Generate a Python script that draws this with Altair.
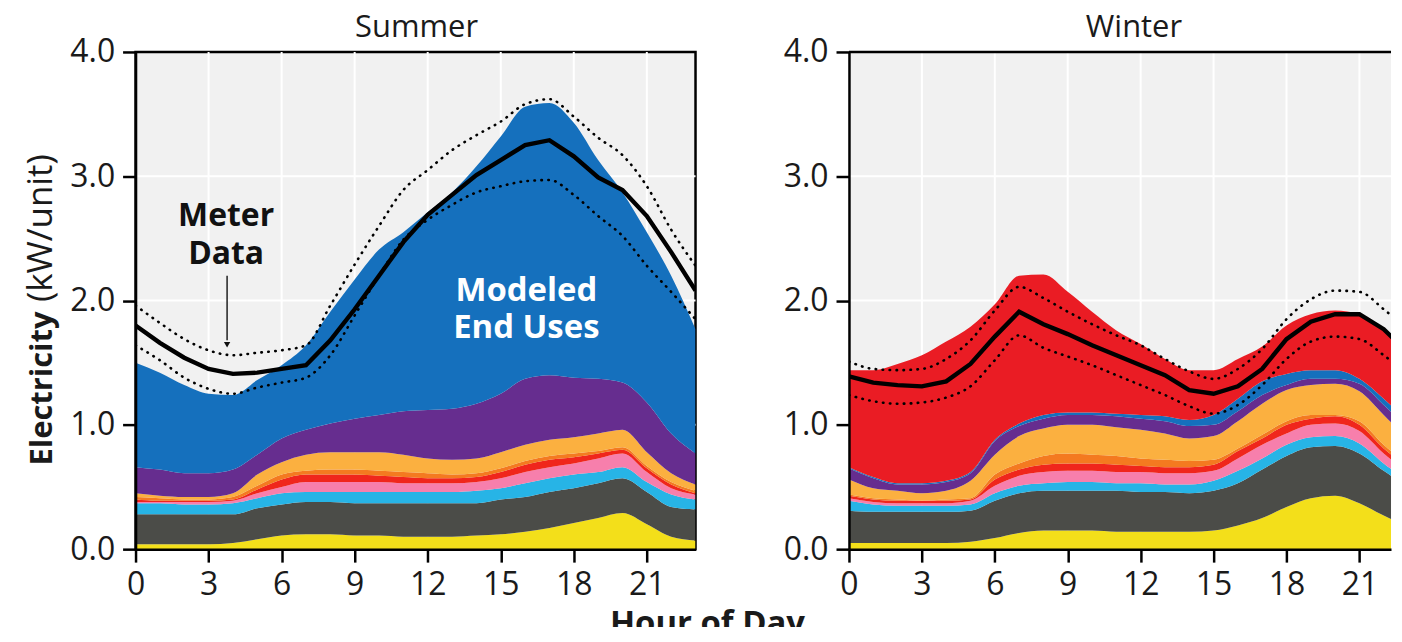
import altair as alt
import pandas as pd

HOURS = list(range(24))
X_TICKS = [0, 3, 6, 9, 12, 15, 18, 21]
Y_TICKS = [0, 1, 2, 3, 4]
GRID_HOURS = [3, 6, 9, 12, 15, 18, 21]
GRID_KW = [1, 2, 3]
FRAME_KW = [4]

END_USES = ["Pool pump", "Plug loads", "Refrigeration", "Laundry", "Cooking",
            "Lighting", "Water heating", "Fans", "Cooling", "Heating"]
COLORS = ["#f3df1a", "#4b4c48", "#27b4e6", "#f77fac", "#f0261c",
          "#f47a20", "#fbb040", "#662d8f", "#1570bd", "#ea1c24"]

# ---- Summer end uses (kW/unit per hour) ----
S_POOL = [0.04, 0.04, 0.04, 0.04, 0.05, 0.08, 0.11, 0.12, 0.12, 0.11, 0.11, 0.10,
          0.10, 0.10, 0.11, 0.12, 0.14, 0.17, 0.21, 0.25, 0.29, 0.20, 0.10, 0.07]
S_PLUG = [0.24, 0.24, 0.24, 0.24, 0.23, 0.25, 0.25, 0.26, 0.26, 0.26, 0.26, 0.27,
          0.27, 0.27, 0.26, 0.28, 0.28, 0.29, 0.28, 0.28, 0.28, 0.26, 0.24, 0.25]
S_REFRIG = [0.09, 0.09, 0.08, 0.08, 0.09, 0.08, 0.09, 0.08, 0.08, 0.09, 0.09, 0.09,
            0.09, 0.09, 0.10, 0.09, 0.11, 0.11, 0.11, 0.09, 0.09, 0.08, 0.10, 0.08]
S_LAUNDRY = [0.01, 0.01, 0.02, 0.02, 0.02, 0.04, 0.05, 0.08, 0.08, 0.08, 0.08, 0.07,
             0.07, 0.07, 0.07, 0.08, 0.09, 0.09, 0.09, 0.11, 0.11, 0.08, 0.05, 0.04]
S_COOKING = [0.02, 0.01, 0.01, 0.01, 0.01, 0.03, 0.06, 0.06, 0.06, 0.06, 0.05, 0.05,
             0.04, 0.04, 0.04, 0.05, 0.06, 0.06, 0.05, 0.04, 0.03, 0.03, 0.03, 0.01]
S_LIGHTING = [0.02, 0.02, 0.01, 0.01, 0.02, 0.03, 0.04, 0.03, 0.04, 0.04, 0.04, 0.04,
              0.04, 0.03, 0.03, 0.03, 0.03, 0.03, 0.03, 0.02, 0.02, 0.02, 0.02, 0.02]
S_WATER = [0.03, 0.02, 0.02, 0.02, 0.03, 0.09, 0.10, 0.13, 0.14, 0.14, 0.15, 0.14,
           0.12, 0.12, 0.12, 0.13, 0.13, 0.13, 0.13, 0.14, 0.14, 0.11, 0.07, 0.05]
S_FANS = [0.21, 0.21, 0.19, 0.19, 0.19, 0.16, 0.19, 0.20, 0.23, 0.27, 0.30, 0.35,
          0.39, 0.41, 0.44, 0.47, 0.53, 0.52, 0.48, 0.44, 0.38, 0.40, 0.32, 0.25]
S_COOL = [0.84, 0.78, 0.71, 0.64, 0.60, 0.60, 0.59, 0.68, 0.90, 1.12, 1.33, 1.44,
          1.59, 1.74, 1.91, 2.07, 2.19, 2.19, 2.05, 1.76, 1.53, 1.37, 1.27, 1.00]

S_METER = [1.80, 1.66, 1.54, 1.45, 1.41, 1.42, 1.45, 1.48, 1.68, 1.93, 2.20, 2.47,
           2.69, 2.85, 3.01, 3.13, 3.25, 3.29, 3.16, 2.99, 2.89, 2.68, 2.39, 2.08]
S_UPPER = [1.96, 1.82, 1.69, 1.60, 1.56, 1.58, 1.60, 1.64, 1.96, 2.29, 2.60, 2.89,
           3.05, 3.21, 3.33, 3.44, 3.58, 3.62, 3.48, 3.31, 3.17, 2.92, 2.57, 2.28]
S_LOWER = [1.64, 1.52, 1.38, 1.29, 1.25, 1.30, 1.34, 1.38, 1.56, 1.88, 2.20, 2.49,
           2.65, 2.77, 2.87, 2.92, 2.96, 2.97, 2.85, 2.68, 2.52, 2.28, 2.07, 1.85]

# ---- Winter end uses ----
W_POOL = [0.05, 0.05, 0.05, 0.05, 0.05, 0.06, 0.09, 0.13, 0.15, 0.15, 0.15, 0.14,
          0.14, 0.14, 0.14, 0.15, 0.19, 0.25, 0.34, 0.41, 0.43, 0.37, 0.27, 0.18]
W_PLUG = [0.26, 0.25, 0.25, 0.25, 0.25, 0.25, 0.30, 0.32, 0.32, 0.32, 0.32, 0.33,
          0.32, 0.32, 0.31, 0.32, 0.34, 0.39, 0.41, 0.41, 0.40, 0.40, 0.36, 0.32]
W_REFRIG = [0.08, 0.06, 0.05, 0.05, 0.05, 0.05, 0.06, 0.06, 0.06, 0.07, 0.07, 0.06,
            0.07, 0.06, 0.07, 0.08, 0.10, 0.09, 0.09, 0.08, 0.08, 0.08, 0.06, 0.05]
W_LAUNDRY = [0.02, 0.02, 0.02, 0.02, 0.02, 0.03, 0.06, 0.08, 0.09, 0.09, 0.09, 0.09,
             0.09, 0.09, 0.09, 0.08, 0.10, 0.11, 0.09, 0.10, 0.10, 0.10, 0.08, 0.07]
W_COOKING = [0.02, 0.02, 0.02, 0.02, 0.02, 0.01, 0.05, 0.05, 0.06, 0.06, 0.06, 0.06,
             0.05, 0.05, 0.05, 0.05, 0.06, 0.05, 0.07, 0.05, 0.06, 0.05, 0.04, 0.04]
W_LIGHTING = [0.01, 0.01, 0.01, 0.00, 0.01, 0.01, 0.04, 0.05, 0.07, 0.08, 0.07, 0.07,
              0.06, 0.06, 0.05, 0.04, 0.02, 0.03, 0.03, 0.03, 0.01, 0.03, 0.03, 0.02]
W_WATER = [0.12, 0.08, 0.07, 0.06, 0.07, 0.14, 0.16, 0.22, 0.22, 0.23, 0.24, 0.23,
           0.23, 0.21, 0.18, 0.19, 0.22, 0.25, 0.25, 0.24, 0.25, 0.24, 0.24, 0.20]
W_FANS = [0.09, 0.08, 0.05, 0.07, 0.07, 0.06, 0.11, 0.08, 0.08, 0.08, 0.08, 0.09,
          0.09, 0.10, 0.10, 0.09, 0.08, 0.07, 0.04, 0.05, 0.04, 0.06, 0.08, 0.09]
W_COOL = [0.01, 0.01, 0.01, 0.01, 0.01, 0.01, 0.01, 0.02, 0.03, 0.02, 0.02, 0.02,
          0.03, 0.04, 0.05, 0.08, 0.10, 0.11, 0.09, 0.07, 0.07, 0.04, 0.05, 0.06]
W_HEAT = [0.78, 0.86, 0.96, 1.03, 1.12, 1.17, 1.09, 1.19, 1.13, 0.97, 0.81, 0.67,
          0.57, 0.46, 0.40, 0.36, 0.32, 0.28, 0.39, 0.45, 0.48, 0.52, 0.55, 0.57]

W_METER = [1.39, 1.34, 1.32, 1.31, 1.35, 1.49, 1.71, 1.91, 1.81, 1.73, 1.64, 1.56,
           1.48, 1.40, 1.28, 1.25, 1.31, 1.45, 1.69, 1.83, 1.89, 1.89, 1.77, 1.58]
W_UPPER = [1.51, 1.45, 1.44, 1.45, 1.53, 1.68, 1.92, 2.11, 2.02, 1.91, 1.81, 1.72,
           1.64, 1.53, 1.43, 1.37, 1.45, 1.61, 1.85, 2.01, 2.08, 2.07, 1.93, 1.76]
W_LOWER = [1.24, 1.19, 1.17, 1.18, 1.22, 1.31, 1.52, 1.72, 1.62, 1.55, 1.48, 1.40,
           1.32, 1.24, 1.15, 1.09, 1.16, 1.32, 1.53, 1.67, 1.71, 1.69, 1.56, 1.40]

# annotations (data coordinates of the summer panel)
METER_TEXT = ["Meter", "Data"]
METER_TEXT_HOUR = [3.72, 3.72]
METER_TEXT_KW = [2.597, 2.293]
ARROW_HOUR = [3.76]
ARROW_TOP = [2.20]
ARROW_BOTTOM = [1.68]
ARROW_HEAD_KW = [1.645]
MODEL_TEXT = ["Modeled", "End Uses"]
MODEL_TEXT_HOUR = [16.05, 16.05]
MODEL_TEXT_KW = [1.996, 1.70]

FONT = "Open Sans"
H = 499
SUMMER_W, SUMMER_XMAX = 562, 23
WINTER_W, WINTER_XMAX = 544, 22.30   # winter panel is cut by the picture edge

AXIS_STYLE = dict(grid=False, zindex=2, labelFont=FONT, labelFontSize=32,
                  labelColor="#1a1a1a", labelPadding=8, labelFlush=False,
                  labelOverlap=False, tickSize=13, tickWidth=2.5, tickColor="black",
                  domainColor="black", domainWidth=2.5, title=None)
YS = alt.Scale(domain=[0, 4], nice=False)
YA = alt.Axis(values=Y_TICKS, format=".1f", **AXIS_STYLE)
XA = alt.Axis(values=X_TICKS, **AXIS_STYLE)


def Y(field, **kw):
    return alt.Y(f"{field}:Q", scale=YS, axis=YA, title=None, **kw)


def stack_df(lists):
    rows = []
    for i, (name, vals) in enumerate(zip(END_USES, lists)):
        for h, v in zip(HOURS, vals):
            rows.append({"hour": h, "end_use": name, "kw": v, "order": i})
    return pd.DataFrame(rows)


def text_layer(txt, x, y, size, weight="normal", color="#1a1a1a", angle=0, align="center"):
    return alt.Chart(pd.DataFrame({"t": [txt]})).mark_text(
        font=FONT, fontSize=size, fontWeight=weight, color=color, angle=angle,
        align=align, baseline="alphabetic"
    ).encode(text="t:N", x=alt.value(x), y=alt.value(y))


def panel(lists, meter, upper, lower, title, title_x, width, xmax, extra, frame_top=False):
    xs = alt.Scale(domain=[0, xmax], nice=False, zero=False)

    def X(field="hour"):
        return alt.X(f"{field}:Q", scale=xs, axis=XA, title=None)

    sdf = stack_df(lists)
    mdf = pd.DataFrame({"hour": HOURS, "meter": meter, "upper": upper, "lower": lower})
    vgrid = alt.Chart(pd.DataFrame({"hour": GRID_HOURS})).mark_rule(
        color="white", strokeWidth=2).encode(x=X())
    hgrid = alt.Chart(pd.DataFrame({"kw": GRID_KW})).mark_rule(
        color="white", strokeWidth=2).encode(y=Y("kw"))
    areas = alt.Chart(sdf).mark_area(interpolate="monotone", clip=True).encode(
        x=X(),
        y=Y("kw", stack="zero"),
        color=alt.Color("end_use:N", scale=alt.Scale(domain=END_USES, range=COLORS), legend=None),
        order=alt.Order("order:Q", sort="ascending"),
    )
    band = alt.Chart(mdf).transform_fold(["upper", "lower"], as_=["band", "kw"]).mark_line(
        interpolate="monotone", color="black", strokeWidth=2.6, strokeDash=[0.5, 6.5],
        strokeCap="round", clip=True
    ).encode(x=X(), y=Y("kw"), detail="band:N")
    line = alt.Chart(mdf).mark_line(color="black", strokeWidth=4.4, clip=True).encode(
        x=X(), y=Y("meter"))
    ttl = text_layer(title, title_x, -15, 31)
    layers = [vgrid, hgrid, areas, band, line, ttl]
    if frame_top:
        layers.append(alt.Chart(pd.DataFrame({"kw": FRAME_KW})).mark_rule(
            color="black", strokeWidth=2.5).encode(y=Y("kw")))
    extra_layers = [e(X) for e in extra]
    return alt.layer(*layers, *extra_layers).properties(width=width, height=H)


def meter_txt(X):
    return alt.Chart(pd.DataFrame({"hour": METER_TEXT_HOUR, "kw": METER_TEXT_KW, "t": METER_TEXT})).mark_text(
        font=FONT, fontSize=32, fontWeight="bold", color="#111", align="center", baseline="alphabetic"
    ).encode(x=X(), y=Y("kw"), text="t:N")


def arrow(X):
    return alt.Chart(pd.DataFrame({"hour": ARROW_HOUR, "top": ARROW_TOP, "bottom": ARROW_BOTTOM})).mark_rule(
        color="#111", strokeWidth=1.4).encode(x=X(), y=Y("top"), y2="bottom:Q")


def arrow_head(X):
    return alt.Chart(pd.DataFrame({"hour": ARROW_HOUR, "kw": ARROW_HEAD_KW})).mark_point(
        shape="triangle-down", filled=True, color="#111", size=40, opacity=1).encode(x=X(), y=Y("kw"))


def model_txt(X):
    return alt.Chart(pd.DataFrame({"hour": MODEL_TEXT_HOUR, "kw": MODEL_TEXT_KW, "t": MODEL_TEXT})).mark_text(
        font=FONT, fontSize=33, fontWeight="bold", color="white", align="center", baseline="alphabetic"
    ).encode(x=X(), y=Y("kw"), text="t:N")


def ytitle_a(X):
    return text_layer("Electricity", -84, 415, 31, weight="bold", angle=270, align="left")


def ytitle_b(X):
    return text_layer("(kW/unit)", -84, 251, 35, angle=270, align="left")


def xtitle(X):
    return text_layer("Hour of Day", 574, 584, 33, weight="bold")


summer = panel(
    [S_POOL, S_PLUG, S_REFRIG, S_LAUNDRY, S_COOKING, S_LIGHTING, S_WATER, S_FANS, S_COOL],
    S_METER, S_UPPER, S_LOWER, "Summer", 282, SUMMER_W, SUMMER_XMAX,
    [meter_txt, arrow, arrow_head, model_txt, ytitle_a, ytitle_b, xtitle],
)
winter = panel(
    [W_POOL, W_PLUG, W_REFRIG, W_LAUNDRY, W_COOKING, W_LIGHTING, W_WATER, W_FANS, W_COOL, W_HEAT],
    W_METER, W_UPPER, W_LOWER, "Winter", 286, WINTER_W, WINTER_XMAX, [], frame_top=True,
).properties(view=alt.ViewBackground(fill="#f1f1f1", stroke="transparent"))

chart = alt.hconcat(summer, winter, spacing=154, bounds="flush").configure_view(
    fill="#f1f1f1", stroke="black", strokeWidth=2.5
).properties(
    padding={"left": 14, "top": 1, "right": 0, "bottom": -17}
)

chart.save("out.html", embed_options={"renderer": "svg", "actions": False})
